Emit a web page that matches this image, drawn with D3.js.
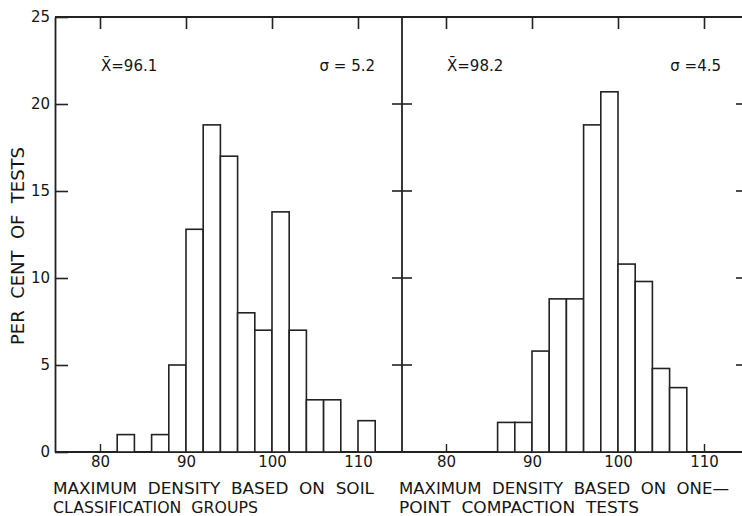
<!DOCTYPE html>
<html>
<head>
<meta charset="utf-8">
<script src="https://cdn.jsdelivr.net/npm/d3@7"></script>
<style>
body { margin: 0; background: #fff; }
text { font-family: "DejaVu Sans", sans-serif; fill: #151515; }
</style>
</head>
<body>
<div id="chart"></div>
<script>
// class starts, each class is 2 units wide
var binStarts = [82, 84, 86, 88, 90, 92, 94, 96, 98, 100, 102, 104, 106, 108, 110];
var soilPct =     [1, 0, 1, 5, 12.8, 18.8, 17, 8, 7, 13.8, 7, 3, 3, 0, 1.8];
var onePointPct = [0, 0, 1.7, 1.7, 5.8, 8.8, 8.8, 18.8, 20.7, 10.8, 9.8, 4.8, 3.7, 0, 0];
var xTicks = [80, 90, 100, 110];
var yTicks = [0, 5, 10, 15, 20, 25];
var soilStats = ["X\u0304=96.1", "\u03c3 = 5.2"];
var onePointStats = ["X\u0304=98.2", "\u03c3 =4.5"];
var soilTitle = ["MAXIMUM  DENSITY  BASED  ON  SOIL", "CLASSIFICATION  GROUPS"];
var onePointTitle = ["MAXIMUM  DENSITY  BASED  ON  ONE\u2014", "POINT  COMPACTION  TESTS"];
var yLabel = "PER  CENT  OF  TESTS";

var width = 742, height = 516;
var svg = d3.select("#chart").append("svg")
    .attr("width", width)
    .attr("height", height);

var y = d3.scaleLinear().domain([0, 25]).range([452, 17]);

// frame: top line, baseline
svg.append("line").attr("x1", 55).attr("x2", width).attr("y1", y(25)).attr("y2", y(25))
    .attr("stroke", "#222").attr("stroke-width", 1.8);
svg.append("line").attr("x1", 55).attr("x2", width).attr("y1", y(0)).attr("y2", y(0))
    .attr("stroke", "#222").attr("stroke-width", 1.8);

// left y axis, ticks point inward
var yAxis = d3.axisLeft(y).tickValues(yTicks).tickSizeInner(-13).tickSizeOuter(0).tickPadding(5);
var ya = svg.append("g").attr("transform", "translate(55,0)").call(yAxis);
ya.select(".domain").attr("stroke", "#222").attr("stroke-width", 1.8);
ya.selectAll(".tick line").attr("stroke", "#222").attr("stroke-width", 1.6);
ya.selectAll(".tick text").style("font-size", "15px").attr("fill", "#151515");

// panel dividers with crossing ticks
[402, 746].forEach(function(px) {
    svg.append("line").attr("x1", px).attr("x2", px).attr("y1", y(25)).attr("y2", y(0))
        .attr("stroke", "#222").attr("stroke-width", 1.8);
    svg.selectAll(null).data(yTicks.filter(function(d) { return d > 0 && d < 25; }))
        .enter().append("line")
        .attr("x1", px - 10).attr("x2", px + 10)
        .attr("y1", function(d) { return y(d); }).attr("y2", function(d) { return y(d); })
        .attr("stroke", "#222").attr("stroke-width", 1.6);
});

// y label
svg.append("text")
    .attr("transform", "translate(24," + 246 + ") rotate(-90)")
    .attr("text-anchor", "middle")
    .attr("textLength", 198)
    .attr("lengthAdjust", "spacingAndGlyphs")
    .style("font-size", "18px")
    .style("white-space", "pre")
    .text(yLabel);

function drawPanel(x0, values, stats, title, titleLen) {
    var x = d3.scaleLinear().domain([80, 110]).range([x0, x0 + 258]);

    // ticks along the top edge
    var top = svg.append("g").attr("transform", "translate(0," + y(25) + ")")
        .call(d3.axisTop(x).tickValues(xTicks).tickSizeInner(-12).tickSizeOuter(0).tickFormat(""));
    top.select(".domain").remove();
    top.selectAll(".tick line").attr("stroke", "#222").attr("stroke-width", 1.6);

    // bottom axis with labels, small ticks up
    var bot = svg.append("g").attr("transform", "translate(0," + y(0) + ")")
        .call(d3.axisBottom(x).tickValues(xTicks).tickSizeInner(-8).tickSizeOuter(0).tickPadding(4));
    bot.select(".domain").remove();
    bot.selectAll(".tick line").attr("stroke", "#222").attr("stroke-width", 1.4);
    bot.selectAll(".tick text").style("font-size", "15px").attr("fill", "#151515");

    // histogram bars
    var bins = binStarts.map(function(b, i) { return {x: b, v: values[i]}; })
        .filter(function(d) { return d.v > 0; });
    svg.append("g").selectAll("rect").data(bins)
        .enter().append("rect")
        .attr("x", function(d) { return x(d.x); })
        .attr("y", function(d) { return y(d.v); })
        .attr("width", function(d) { return x(d.x + 2) - x(d.x); })
        .attr("height", function(d) { return y(0) - y(d.v); })
        .attr("fill", "#fff")
        .attr("stroke", "#222")
        .attr("stroke-width", 1.6);

    // mean and sigma
    svg.append("text").attr("x", x(80) + 1).attr("y", 71)
        .style("font-size", "15px").text(stats[0]);
    svg.append("text").attr("x", x(110) + 17).attr("y", 71)
        .attr("text-anchor", "end")
        .style("font-size", "15px").text(stats[1]);

    // axis title, two lines
    title.forEach(function(t, i) {
        svg.append("text").attr("x", x0 - 47).attr("y", 494 + i * 19)
            .style("font-size", "15px").style("white-space", "pre")
            .attr("textLength", titleLen[i])
            .attr("lengthAdjust", "spacingAndGlyphs")
            .text(t);
    });
}

drawPanel(100, soilPct, soilStats, soilTitle, [321, 205]);
drawPanel(446, onePointPct, onePointStats, onePointTitle, [330, 240]);
</script>
</body>
</html>
